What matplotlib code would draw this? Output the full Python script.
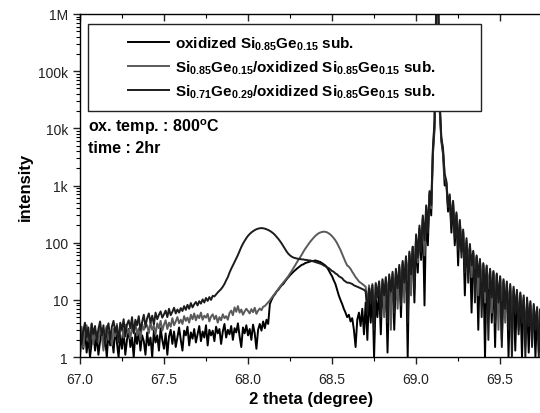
import numpy as np
import matplotlib
matplotlib.use('Agg')
import matplotlib.pyplot as plt
import matplotlib.patches as patches
from matplotlib.ticker import LogLocator, FixedLocator, MultipleLocator, NullFormatter

plt.rcParams['font.family'] = ['Liberation Sans', 'DejaVu Sans']
plt.rcParams['mathtext.fontset'] = 'custom'
plt.rcParams['mathtext.rm'] = 'Liberation Sans:bold'
plt.rcParams['mathtext.it'] = 'Liberation Sans:bold'
plt.rcParams['mathtext.bf'] = 'Liberation Sans:bold'

# 2 theta sampling, 67.00 ... 69.75 in 0.01 steps
two_theta = np.round(67.0 + np.arange(276) * 0.01, 2)

# film / low angle part, 67.00 - 68.69
film_a = [1.0, 2.6, 1.4, 3.1, 1.2, 2.2, 1.0, 1.8, 2.9, 1.3,
          2.4, 1.1, 1.9, 3.0, 1.5, 2.1, 1.0, 2.7, 1.6, 2.3,
          1.2, 3.2, 1.8, 1.0, 2.5, 1.4, 2.8, 1.1, 2.0, 3.1,
          1.5, 2.2, 1.0, 2.6, 1.7, 3.0, 1.3, 2.4, 1.9, 1.1,
          2.7, 1.6, 2.2, 1.0, 2.9, 1.8, 2.4, 1.3, 3.2, 2.0,
          1.4, 2.6, 1.1, 2.3, 3.0, 1.7, 2.8, 1.5, 2.2, 3.3,
          2.0, 1.3, 2.9, 2.4, 3.4, 1.6, 2.7, 2.1, 3.1, 1.8,
          2.5, 3.5, 1.9, 2.8, 2.2, 3.6, 1.6, 3.0, 2.4, 2.9,
          1.9, 3.4, 2.6, 3.1, 1.7, 2.8, 3.8, 2.2, 3.0, 2.5,
          3.5, 2.0, 3.2, 2.7, 3.9, 2.3, 1.5, 3.3, 2.6, 3.6,
          2.4, 3.1, 2.0, 3.7, 2.6, 1.4, 3.0, 3.8, 2.9, 4.2,
          3.2, 4.5, 3.8, 8.5, 10.0, 11.5, 12.5, 14.0, 15.0, 16.5,
          18, 19, 21, 23, 25, 27, 29, 31, 33, 35,
          37, 39, 41, 42, 44, 45, 46, 47, 48, 48,
          49, 48, 47, 46, 44, 42, 40, 37, 33, 29,
          26, 22, 19, 15, 12, 10, 8.5, 7.0, 6.0, 5.0,
          5.5, 4.2, 4.8, 3.0, 1.5, 4.5, 6.0, 3.5, 7.0, 2.5]

film_b = [2.2, 3.4, 1.5, 2.8, 3.6, 1.9, 2.5, 3.9, 1.7, 3.0,
          2.6, 1.8, 3.3, 2.4, 1.3, 2.9, 3.5, 2.0, 2.7, 1.6,
          3.1, 2.3, 3.8, 1.9, 2.8, 3.4, 2.2, 3.7, 2.6, 3.0,
          2.1, 3.5, 2.7, 4.0, 2.4, 3.2, 2.0, 3.8, 3.0, 3.4,
          3.6, 2.6, 4.1, 3.0, 3.5, 2.5, 3.9, 3.2, 4.3, 2.9,
          3.7, 4.4, 3.1, 4.0, 3.4, 4.8, 3.6, 4.2, 5.0, 3.9,
          4.5, 3.8, 5.2, 4.3, 4.9, 4.0, 5.5, 4.6, 5.8, 4.4,
          5.4, 4.8, 6.0, 4.5, 5.3, 4.9, 5.7, 4.2, 5.1, 5.6,
          4.6, 5.3, 4.0, 5.0, 4.4, 5.6, 4.8, 5.2, 4.5, 5.9,
          6.5, 5.4, 7.4, 6.2, 7.8, 6.0, 6.8, 5.5, 6.3, 7.0,
          6.4, 5.8, 6.9, 6.1, 7.3, 5.7, 6.5, 7.1, 6.6, 7.6,
          7.8, 8.4, 9.0, 9.8, 10.8, 11.8, 12.8, 14.0, 15.5, 17.0,
          18.5, 20, 22, 24, 26, 29, 32, 36, 40, 45,
          50, 56, 62, 70, 78, 86, 95, 104, 113, 122,
          131, 139, 146, 151, 154, 156, 155, 152, 146, 139,
          130, 120, 110, 98, 86, 75, 64, 54, 46, 40,
          38, 35, 31, 28, 25, 23, 21, 20, 19, 18]

film_c = [3.6, 1.7, 2.9, 4.0, 2.2, 3.3, 1.4, 3.8, 2.5, 3.5,
          1.9, 3.1, 4.2, 2.4, 3.6, 1.6, 3.0, 3.9, 2.0, 3.4,
          4.3, 2.7, 3.5, 1.8, 4.0, 3.0, 4.6, 2.3, 3.7, 4.4,
          3.2, 5.0, 2.6, 4.5, 3.6, 5.2, 2.9, 4.1, 5.5, 3.4,
          4.8, 5.8, 4.0, 5.3, 3.7, 6.0, 4.6, 5.5, 6.3, 4.9,
          5.6, 6.5, 5.0, 7.0, 5.4, 6.2, 7.3, 5.8, 6.8, 6.0,
          7.2, 6.4, 7.8, 6.7, 8.2, 7.0, 8.8, 7.4, 8.4, 9.2,
          8.0, 9.5, 8.6, 10.2, 9.0, 10.8, 9.6, 11.2, 10.0, 11.8,
          11.5, 12.5, 13.5, 14.5, 15.5, 17, 19, 22, 25, 30,
          35, 40, 46, 53, 61, 72, 84, 96, 108, 120,
          132, 142, 151, 159, 166, 172, 176, 179, 180, 179,
          176, 172, 167, 161, 154, 146, 137, 127, 117, 107,
          97, 87, 78, 70, 64, 60, 57, 55, 54, 53,
          52, 52, 51, 51, 50, 50, 49, 49, 48, 47,
          46, 45, 44, 43, 42, 40, 39, 37, 36, 34,
          32, 31, 29, 28, 26, 25, 24, 22, 21, 20,
          20, 19.5, 19, 18, 17.5, 17, 16.5, 16, 15.5, 15]

# substrate peak with thickness fringes, 68.70 - 69.75
sub_a = [9, 2.0, 12, 4, 15, 1.0, 11, 5, 16, 2.5,
         18, 6, 20, 1.2, 17, 8, 24, 3, 26, 10,
         35, 5, 42, 14, 55, 1.0, 60, 20, 85, 9,
         120, 30, 170, 50, 260, 8, 380, 90, 700, 300,
         3500, 10000, 1.5e6, 4e6, 22000, 6000, 3600, 1000, 1100, 350,
         600, 150, 480, 90, 300, 40, 220, 70, 150, 12,
         100, 30, 80, 6, 65, 18, 55, 3, 48, 14,
         40, 1.0, 36, 10, 33, 4, 30, 1.5, 27, 8,
         24, 2, 21, 6, 19, 1.0, 17, 5, 15, 1.3,
         13, 4, 12, 1.0, 10, 3, 9, 1.2, 8, 2.5,
         7, 1.0, 6.5, 2, 6, 1.5]

sub_b = [17, 8, 18, 11, 19, 6, 20, 12, 21, 9,
         22, 5, 24, 13, 26, 3, 29, 15, 33, 7,
         38, 18, 46, 9, 55, 25, 66, 12, 80, 35,
         130, 45, 180, 90, 280, 60, 420, 200, 750, 400,
         4200, 13000, 2.2e6, 5e6, 28000, 6500, 4200, 1400, 1150, 500,
         650, 250, 520, 160, 320, 90, 240, 110, 160, 45,
         110, 50, 90, 25, 70, 35, 58, 12, 50, 20,
         42, 9, 38, 16, 34, 6, 31, 13, 28, 3,
         25, 10, 22, 4, 20, 8, 18, 2, 16, 7,
         14, 3, 13, 6, 11, 1.5, 10, 5, 9, 2,
         8, 4, 7, 1.2, 6.5, 3]

sub_c = [14, 6, 16, 9, 18, 3, 19, 11, 21, 5,
         23, 12, 25, 4, 28, 14, 31, 6, 35, 16,
         41, 8, 48, 20, 58, 4, 70, 28, 85, 15,
         140, 55, 200, 70, 300, 110, 450, 150, 800, 450,
         4500, 14000, 1.8e6, 4.5e6, 32000, 7000, 4500, 1600, 1200, 420,
         700, 200, 540, 120, 340, 75, 250, 55, 170, 30,
         120, 20, 95, 40, 72, 9, 60, 25, 52, 5,
         44, 14, 40, 2, 35, 11, 32, 4, 29, 9,
         26, 1.5, 23, 7, 21, 3, 19, 1.0, 17, 6,
         15, 2.5, 13.5, 4, 12, 1.0, 11, 3.5, 9.5, 1.5,
         8.5, 3, 7.5, 1.0, 7, 2.5]

labels = [r'oxidized Si$_{0.85}$Ge$_{0.15}$ sub.',
          r'Si$_{0.85}$Ge$_{0.15}$/oxidized Si$_{0.85}$Ge$_{0.15}$ sub.',
          r'Si$_{0.71}$Ge$_{0.29}$/oxidized Si$_{0.85}$Ge$_{0.15}$ sub.']
colors = ['#000000', '#5a5a5a', '#1c1c1c']
y_ticks = [1, 10, 100, 1e3, 1e4, 1e5, 1e6]
y_ticklabels = ['1', '10', '100', '1k', '10k', '100k', '1M']

series = [film_a + sub_a, film_b + sub_b, film_c + sub_c]

fig = plt.figure(figsize=(5.4, 4.14), dpi=100)
ax = fig.add_axes([0.148, 0.135, 0.856, 0.829])

for vals, col, lab in zip(series, colors, labels):
    ax.plot(two_theta, vals, color=col, lw=1.4, label=lab)

ax.set_yscale('log')
ax.set_xlim(67.0, 69.75)
ax.set_ylim(1, 1e6)

ax.xaxis.set_major_locator(MultipleLocator(0.5))
ax.xaxis.set_minor_locator(MultipleLocator(0.25))
ax.xaxis.set_major_formatter(plt.FuncFormatter(lambda v, p: '%.1f' % v))
ax.yaxis.set_major_locator(FixedLocator(y_ticks))
ax.set_yticklabels(y_ticklabels)
ax.yaxis.set_minor_locator(LogLocator(base=10, subs=np.arange(2, 10), numticks=20))
ax.yaxis.set_minor_formatter(NullFormatter())

ax.tick_params(axis='both', which='major', direction='out', length=5, width=1.0,
               labelsize=10, colors='#222222', labelcolor='#222222')
ax.tick_params(axis='both', which='minor', direction='out', length=3, width=0.8)
ax.tick_params(axis='x', which='both', top=True)
ax.tick_params(axis='x', which='major', pad=6)

for s in ['left', 'bottom', 'top']:
    ax.spines[s].set_linewidth(1.0)
ax.spines['right'].set_visible(False)

# top ticks point into the frame
for t in ax.xaxis.get_major_ticks() + ax.xaxis.get_minor_ticks():
    t.tick2line.set_marker(matplotlib.lines.TICKDOWN)

ax.set_xlabel('2 theta (degree)', fontsize=12, fontweight='bold', labelpad=3)
ax.set_ylabel('intensity', fontsize=12, fontweight='bold', labelpad=4)

ax.add_patch(patches.Rectangle((0.017, 0.717), 0.851, 0.254, transform=ax.transAxes,
                               fill=True, facecolor='white', edgecolor='#222222',
                               lw=1.0, zorder=5))
leg = ax.legend(loc='upper left', bbox_to_anchor=(0.104, 0.94), frameon=False,
                fontsize=11, handlelength=2.7, handletextpad=0.35, labelspacing=0.42,
                borderpad=0, borderaxespad=0)
leg.set_zorder(6)
for t in leg.get_texts():
    t.set_fontweight('bold')

ax.text(0.017, 0.673, r'ox. temp. : 800$^{o}$C', transform=ax.transAxes,
        fontsize=11.5, fontweight='bold', va='center', ha='left')
ax.text(0.017, 0.612, 'time : 2hr', transform=ax.transAxes,
        fontsize=11.5, fontweight='bold', va='center', ha='left')

fig.savefig('out.png', dpi=100)
